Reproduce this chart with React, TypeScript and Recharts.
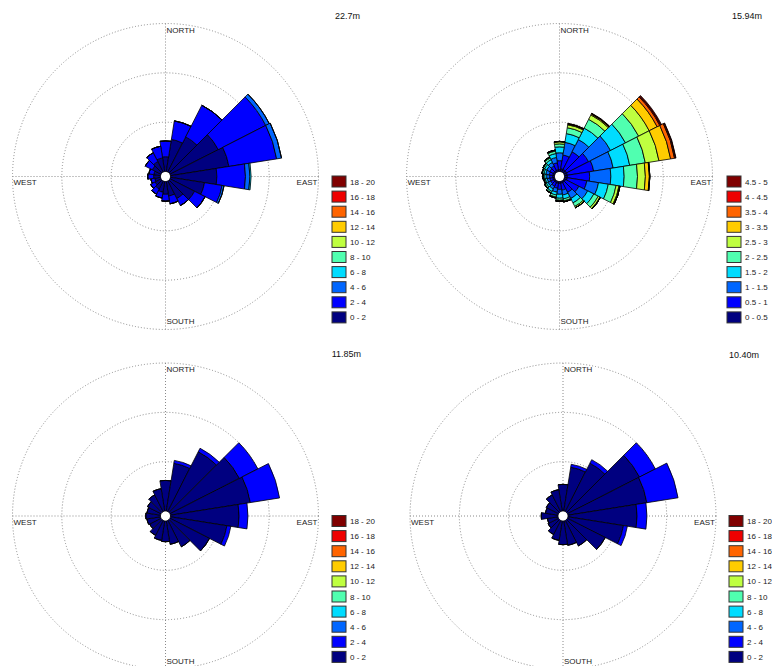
import React from "react";
import { RadialBarChart, RadialBar, PolarGrid, PolarAngleAxis, PolarRadiusAxis } from "recharts";

// 20 direction sectors, compass degrees clockwise from north
const DIRS = [0, 18, 36, 54, 72, 90, 108, 126, 144, 162, 180, 198, 216, 234, 252, 270, 288, 306, 324, 342];

const COLORS = [
  "#000080", "#0000ff", "#0066ff", "#00dcff", "#50ffb0",
  "#bfff40", "#ffcc00", "#ff6400", "#ee0000", "#800000",
];

const BINS_WIDE = ["0 - 2", "2 - 4", "4 - 6", "6 - 8", "8 - 10", "10 - 12", "12 - 14", "14 - 16", "16 - 18", "18 - 20"];
const BINS_FINE = ["0 - 0.5", "0.5 - 1", "1 - 1.5", "1.5 - 2", "2 - 2.5", "2.5 - 3", "3 - 3.5", "3.5 - 4", "4 - 4.5", "4.5 - 5"];

// 22.7m (frequency per sector, stacked by bin)
const h227_b0 = [1.5, 3.3, 4.0, 5.5, 6.0, 4.7, 3.5, 2.8, 2.0, 1.5, 1.3, 1.1, 0.9, 0.7, 0.6, 0.7, 0.7, 1.0, 1.2, 1.4];
const h227_b1 = [1.6, 1.9, 3.6, 5.4, 4.9, 2.9, 1.8, 1.2, 0.8, 0.8, 0.7, 0.6, 0.6, 0.5, 0.4, 0.6, 0.5, 0.8, 1.0, 1.2];
const h227_b2 = [0, 0, 0, 0.4, 0.5, 0.45, 0.2, 0, 0, 0, 0, 0, 0, 0, 0, 0, 0, 0, 0, 0];
const h227_b3 = [0, 0, 0, 0, 0, 0.12, 0, 0, 0, 0, 0, 0, 0, 0, 0, 0, 0, 0, 0, 0];

// 15.94m
const h1594_b0 = [0.2, 0.3, 0.3, 0.3, 0.3, 0.3, 0.3, 0.2, 0.2, 0.2, 0.2, 0.2, 0.2, 0.2, 0.2, 0.2, 0.2, 0.2, 0.2, 0.2];
const h1594_b1 = [0.9, 1.4, 2.0, 2.5, 2.7, 2.25, 2.0, 1.5, 1.1, 0.7, 0.6, 0.5, 0.4, 0.3, 0.3, 0.3, 0.35, 0.4, 0.5, 0.7];
const h1594_b2 = [0.8, 1.3, 1.4, 2.5, 2.0, 2.15, 1.2, 1.0, 0.7, 0.5, 0.5, 0.4, 0.3, 0.3, 0.25, 0.3, 0.35, 0.35, 0.4, 0.55];
const h1594_b3 = [0.6, 0.9, 1.3, 1.7, 1.7, 1.35, 1.0, 0.7, 0.5, 0.4, 0.4, 0.3, 0.3, 0.2, 0.2, 0.2, 0.2, 0.25, 0.3, 0.4];
const h1594_b4 = [0.3, 0.6, 1.0, 1.5, 1.6, 1.35, 0.8, 0.5, 0.4, 0.2, 0.2, 0.2, 0.15, 0.15, 0.1, 0.15, 0.15, 0.15, 0.2, 0.25];
const h1594_b5 = [0.2, 0.3, 0.5, 1.2, 1.4, 0.8, 0.3, 0.2, 0.15, 0.1, 0.1, 0.1, 0.05, 0.05, 0.05, 0.05, 0.05, 0.05, 0.1, 0.1];
const h1594_b6 = [0.05, 0.1, 0.1, 0.9, 1.2, 0.4, 0.1, 0.05, 0, 0, 0, 0, 0, 0, 0, 0, 0, 0, 0, 0];
const h1594_b7 = [0, 0, 0.05, 0.3, 0.4, 0.05, 0, 0, 0, 0, 0, 0, 0, 0, 0, 0, 0, 0, 0, 0];
const h1594_b8 = [0, 0, 0, 0.1, 0.1, 0, 0, 0, 0, 0, 0, 0, 0, 0, 0, 0, 0, 0, 0, 0];
const h1594_b9 = [0, 0.05, 0.05, 0.1, 0.05, 0, 0, 0, 0, 0, 0, 0, 0, 0, 0, 0, 0, 0, 0, 0];

// 11.85m
const h1185_b0 = [3.1, 4.9, 6.8, 7.9, 8.2, 6.95, 5.8, 4.5, 3.0, 2.4, 2.1, 2.0, 1.7, 1.3, 1.4, 1.5, 1.4, 1.55, 1.9, 2.3];
const h1185_b1 = [0, 0.3, 0.4, 2.1, 3.0, 0.9, 0.4, 0, 0, 0, 0, 0, 0, 0, 0, 0, 0, 0, 0, 0];

// 10.40m
const h1040_b0 = [2.7, 4.5, 5.5, 8.2, 8.1, 7.0, 5.7, 4.3, 2.9, 2.5, 2.4, 2.0, 1.6, 1.2, 1.1, 1.7, 1.3, 1.4, 1.9, 2.2];
const h1040_b1 = [0, 0.3, 0.4, 1.8, 3.2, 1.0, 0.4, 0, 0, 0, 0, 0, 0, 0, 0, 0, 0, 0, 0, 0];

type Panel = {
  title: string;
  bins: string[];
  series: number[][];
  left: number;
  top: number;
  cx: number;
  cy: number;
  legendX: number;
  titleX: number;
  titleY: number;
};

const PANELS: Panel[] = [
  { title: "22.7m", bins: BINS_WIDE, series: [h227_b0, h227_b1, h227_b2, h227_b3], left: 0, top: 0, cx: 165.5, cy: 176.5, legendX: 332, titleX: 360, titleY: 19 },
  { title: "15.94m", bins: BINS_FINE, series: [h1594_b0, h1594_b1, h1594_b2, h1594_b3, h1594_b4, h1594_b5, h1594_b6, h1594_b7, h1594_b8, h1594_b9], left: 386, top: 0, cx: 173.5, cy: 176.5, legendX: 341, titleX: 376, titleY: 19 },
  { title: "11.85m", bins: BINS_WIDE, series: [h1185_b0, h1185_b1], left: 0, top: 333, cx: 165.5, cy: 183, legendX: 332, titleX: 361, titleY: 24 },
  { title: "10.40m", bins: BINS_WIDE, series: [h1040_b0, h1040_b1], left: 386, top: 333, cx: 177, cy: 183, legendX: 343, titleX: 373, titleY: 25 },
];

const FONT = '"Liberation Sans", Arial, sans-serif';
const W = 386;
const H = 333;
const R = 153;

function Rose({ p }: { p: Panel }) {
  const rows = DIRS.map((d, i) => {
    const row: Record<string, number> = { dir: d };
    p.series.forEach((s, k) => {
      row["b" + k] = s[i];
    });
    return row;
  });

  return (
    <div style={{ position: "absolute", left: p.left, top: p.top, width: W, height: H }}>
      <RadialBarChart
        width={W}
        height={H}
        data={rows}
        layout="centric"
        cx={p.cx}
        cy={p.cy}
        innerRadius={5}
        outerRadius={R}
        startAngle={81}
        endAngle={-279}
        barCategoryGap={0}
        margin={{ top: 0, right: 0, bottom: 0, left: 0 }}
      >
        <PolarGrid gridType="circle" polarAngles={[0, 90, 180, 270]} stroke="#8a8a8a" strokeDasharray="1 2" />
        <PolarAngleAxis type="category" dataKey="dir" tick={false} axisLine={false} />
        <PolarRadiusAxis type="number" domain={[0, 15]} ticks={[5, 10, 15]} tick={false} axisLine={false} />
        {p.series.map((_, k) => (
          <RadialBar
            key={k}
            dataKey={"b" + k}
            stackId="s"
            fill={COLORS[k]}
            stroke="#000"
            strokeWidth={0.8}
            isAnimationActive={false}
          />
        ))}
      </RadialBarChart>
      <svg
        width={W}
        height={H}
        style={{ position: "absolute", left: 0, top: 0, pointerEvents: "none" }}
        fontFamily={FONT}
      >
        <text x={p.titleX} y={p.titleY} fontSize={9} textAnchor="end" fill="#111">{p.title}</text>
        <text x={p.cx + 1} y={p.cy - R + 9} fontSize={8} fill="#222">NORTH</text>
        <text x={p.cx + 1} y={p.cy + R - 5.5} fontSize={8} fill="#222">SOUTH</text>
        <text x={p.cx - R + 1} y={p.cy + 8.5} fontSize={8} fill="#222">WEST</text>
        <text x={p.cx + R - 1} y={p.cy + 8.5} fontSize={8} textAnchor="end" fill="#222">EAST</text>
        {p.bins.map((_, i) => {
          const k = p.bins.length - 1 - i;
          const y = p.cy - 0.5 + i * 15.1;
          return (
            <g key={k}>
              <rect x={p.legendX} y={y} width={14} height={11} fill={COLORS[k]} stroke="#333" strokeWidth={1} />
              <text x={p.legendX + 18} y={y + 8.5} fontSize={8} fill="#222">{p.bins[k]}</text>
            </g>
          );
        })}
      </svg>
    </div>
  );
}

export default function App() {
  return (
    <div style={{ position: "absolute", left: 0, top: 0, width: 773, height: 666, background: "#fff" }}>
      {PANELS.map((p) => (
        <Rose key={p.title} p={p} />
      ))}
    </div>
  );
}
